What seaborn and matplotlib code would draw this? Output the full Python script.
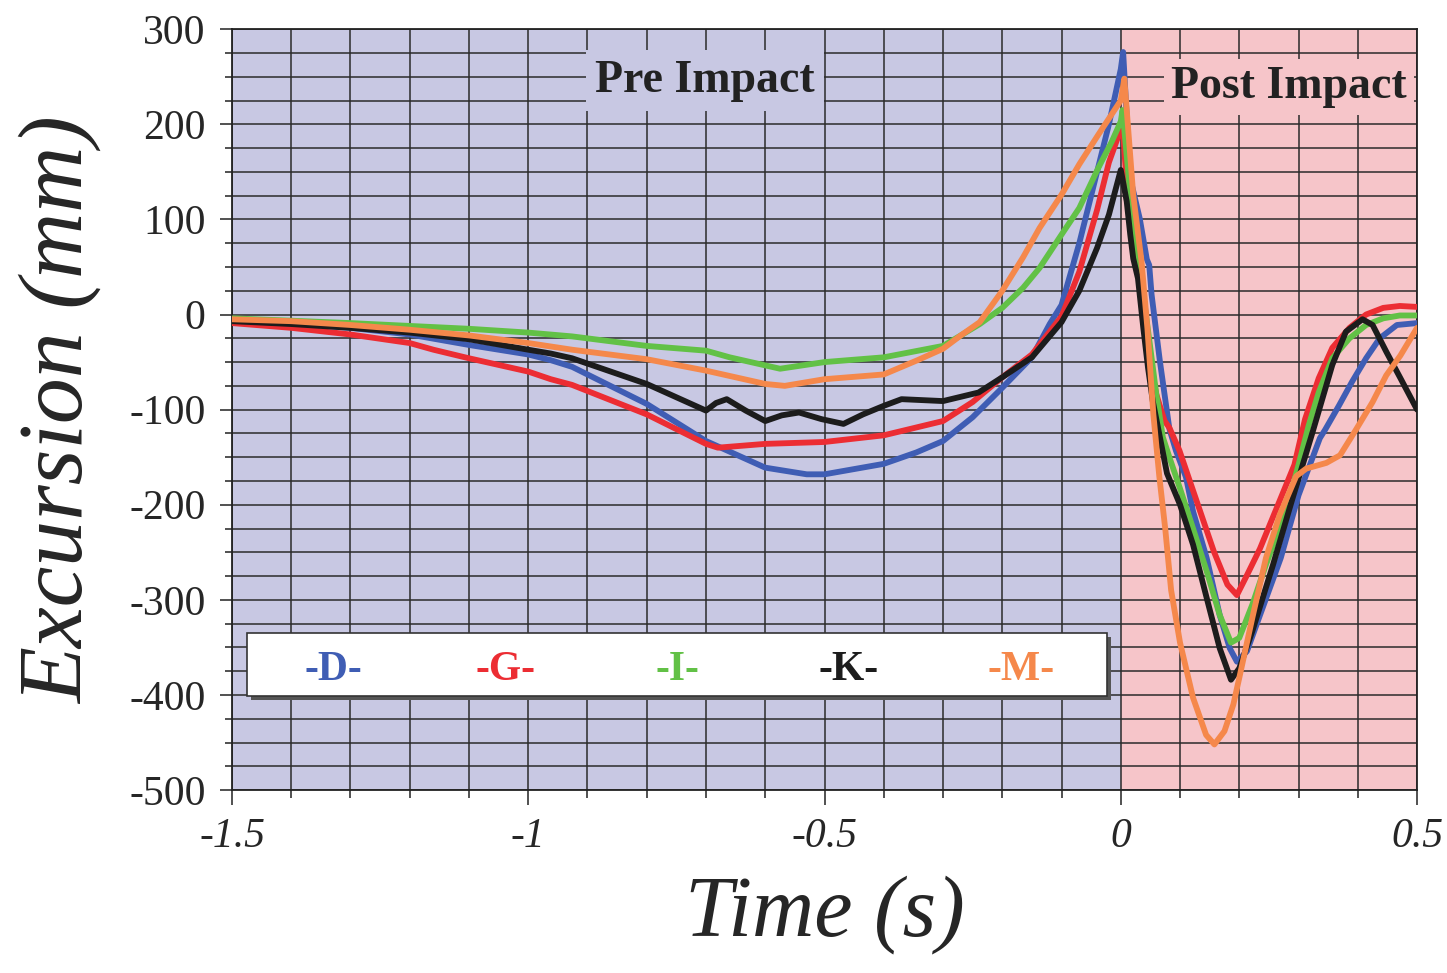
import numpy as np
import pandas as pd
import matplotlib
matplotlib.use("Agg")
import matplotlib.pyplot as plt
import seaborn as sns
from matplotlib.patches import Rectangle


# Excursion traces (time in s, excursion in mm)
t_D = [-1.5, -1.4, -1.3, -1.2, -1.1, -1.0, -0.962, -0.926, -0.8, -0.7, -0.6, -0.53, -0.5, -0.4, -0.345,
       -0.3, -0.25, -0.2, -0.15, -0.12, -0.1, -0.07, -0.04, -0.02, 0.0, 0.004, 0.016, 0.032, 0.044, 0.048,
       0.052, 0.066, 0.082, 0.093, 0.11, 0.122, 0.145, 0.167, 0.184, 0.196, 0.213, 0.235, 0.27, 0.3,
       0.336, 0.345, 0.368, 0.39, 0.414, 0.437, 0.466, 0.5]
v_D = [-7, -9, -14, -21, -32, -42, -48, -55, -94, -133, -161, -168, -168, -157, -145,
       -133, -108, -77, -45, -10, 10, 75, 150, 200, 258, 276, 143, 101, 58, 52,
       21, -49, -120, -143, -171, -207, -256, -316, -351, -365, -354, -316, -256, -190,
       -130, -121, -96, -71, -46, -25, -11, -9]

t_G = [-1.5, -1.4, -1.3, -1.2, -1.16, -1.1, -1.0, -0.962, -0.926, -0.8, -0.7, -0.68, -0.6, -0.5, -0.4,
       -0.3, -0.25, -0.2, -0.15, -0.1, -0.07, -0.04, -0.02, 0.003, 0.012, 0.027, 0.038, 0.049, 0.06,
       0.074, 0.082, 0.099, 0.117, 0.134, 0.157, 0.18, 0.196, 0.213, 0.235, 0.27, 0.293, 0.311, 0.334,
       0.357, 0.386, 0.414, 0.443, 0.471, 0.5]
v_G = [-9, -14, -21, -30, -37, -46, -60, -68, -74, -105, -136, -140, -136, -134, -127,
       -112, -92, -66, -42, -2, 45, 110, 160, 200, 119, 59, 0, -49, -84,
       -112, -119, -143, -176, -207, -249, -284, -295, -274, -246, -193, -158, -110, -67,
       -35, -14, 0, 7, 9, 8]

t_I = [-1.5, -1.3, -1.1, -1.0, -0.926, -0.8, -0.7, -0.66, -0.575, -0.5, -0.4, -0.3, -0.27, -0.238,
       -0.2, -0.165, -0.137, -0.1, -0.07, -0.038, -0.015, 0.0, 0.003, 0.016, 0.027, 0.038, 0.049, 0.06,
       0.071, 0.082, 0.1, 0.122, 0.145, 0.167, 0.186, 0.2, 0.222, 0.245, 0.28, 0.3, 0.317, 0.334,
       0.357, 0.386, 0.414, 0.443, 0.471, 0.5]
v_I = [-4, -9, -15, -19, -23, -33, -38, -45, -57, -50, -45, -33, -22, -10,
       7, 28, 49, 84, 112, 154, 182, 203, 215, 126, 70, 21, -31, -84,
       -129, -150, -183, -225, -270, -316, -345, -340, -305, -263, -204, -158, -117, -82,
       -46, -25, -11, -4, -1, -1]

t_K = [-1.5, -1.4, -1.3, -1.2, -1.1, -1.0, -0.962, -0.926, -0.8, -0.7, -0.683, -0.665, -0.633, -0.6,
       -0.572, -0.543, -0.505, -0.468, -0.435, -0.4, -0.37, -0.3, -0.24, -0.2, -0.15, -0.1, -0.07, -0.04,
       -0.02, 0.0, 0.01, 0.016, 0.021, 0.029, 0.038, 0.046, 0.054, 0.066, 0.078, 0.09, 0.1, 0.122,
       0.145, 0.167, 0.186, 0.2, 0.222, 0.257, 0.29, 0.324, 0.357, 0.38, 0.408, 0.425, 0.448, 0.472, 0.5]
v_K = [-7, -10, -14, -19, -26, -37, -41, -46, -73, -101, -93, -89, -101, -112,
       -106, -103, -110, -115, -105, -96, -89, -91, -82, -66, -45, -8, 25, 70,
       105, 152, 119, 84, 59, 38, -14, -56, -91, -129, -167, -185, -200, -242,
       -298, -351, -384, -372, -333, -263, -193, -123, -53, -18, -5, -11, -39, -67, -100]

t_M = [-1.5, -1.4, -1.3, -1.2, -1.1, -1.0, -0.926, -0.8, -0.7, -0.6, -0.567, -0.5, -0.4, -0.343,
       -0.3, -0.27, -0.238, -0.2, -0.165, -0.137, -0.1, -0.07, -0.038, 0.0, 0.006, 0.021, 0.035,
       0.045, 0.055, 0.065, 0.075, 0.085, 0.1, 0.122, 0.144, 0.158, 0.175, 0.19, 0.2, 0.222, 0.245,
       0.268, 0.296, 0.313, 0.347, 0.37, 0.397, 0.425, 0.448, 0.472, 0.5]
v_M = [-5, -7, -11, -16, -22, -30, -37, -47, -59, -73, -75, -68, -63, -48,
       -36, -22, -8, 25, 60, 91, 126, 158, 189, 225, 248, 126, 56,
       -15, -105, -170, -225, -290, -345, -403, -442, -452, -438, -410, -382, -319, -256,
       -211, -170, -162, -156, -148, -121, -92, -64, -43, -14]

runs = ["-D-", "-G-", "-I-", "-K-", "-M-"]
colors = ["#3f5db4", "#ec2d33", "#62c146", "#1c1c1c", "#f5884b"]

x_major = [-1.5, -1.0, -0.5, 0.0, 0.5]
x_labels = ["-1.5", "-1", "-0.5", "0", "0.5"]
y_major = [300, 200, 100, 0, -100, -200, -300, -400, -500]
y_labels = ["300", "200", "100", "0", "-100", "-200", "-300", "-400", "-500"]

frames = []
for name, t, v in zip(runs, [t_D, t_G, t_I, t_K, t_M], [v_D, v_G, v_I, v_K, v_M]):
    frames.append(pd.DataFrame({"Time": t, "Excursion": v, "Run": name}))
df = pd.concat(frames, ignore_index=True)

sns.set_style("ticks")
plt.rcParams["font.family"] = ["Liberation Serif", "DejaVu Serif"]
plt.rcParams["axes.unicode_minus"] = False

fig = plt.figure(figsize=(14.47, 9.73), dpi=100)
ax = fig.add_axes([0.1603, 0.188, 0.819, 0.782])

# shaded phases
ax.axvspan(-1.5, 0, color="#c8c8e3", zorder=0, lw=0)
ax.axvspan(0, 0.5, color="#f6c5c9", zorder=0, lw=0)

sns.lineplot(data=df, x="Time", y="Excursion", hue="Run", palette=colors, sort=False,
             estimator=None, linewidth=4.2, legend=False, ax=ax, zorder=3)
for line in ax.get_lines():
    line.set_linewidth(4.2)
    line.set_solid_joinstyle("round")

ax.set_xlim(-1.5, 0.5)
ax.set_ylim(-500, 300)
ax.set_xticks(x_major)
ax.set_xticklabels(x_labels, fontsize=30, fontstyle="italic")
ax.set_xticks(np.arange(-1.5, 0.51, 0.1), minor=True)
ax.set_yticks(y_major)
ax.set_yticklabels(y_labels, fontsize=30)
ax.set_yticks(np.arange(-500, 301, 25), minor=True)

ax.set_axisbelow(True)
ax.grid(which="both", color="#2b2b2b", lw=1.1)
ax.tick_params(axis="x", which="major", length=11, width=1.1, pad=9, color="#222222")
ax.tick_params(axis="x", which="minor", length=6, width=1.1, color="#222222")
ax.tick_params(axis="y", which="major", length=9, width=1.1, pad=10, color="#222222")
ax.tick_params(axis="y", which="minor", length=5, width=1.1, color="#222222")
for s in ax.spines.values():
    s.set_color("#222222")
    s.set_linewidth(1.3)

ax.set_xlabel("Time (s)", fontsize=62, fontstyle="italic")
ax.xaxis.set_label_coords(0.5, -0.112)
ax.set_ylabel("Excursion (mm)", fontsize=66, fontstyle="italic")
ax.yaxis.set_label_coords(-0.11, 0.5)

ax.text(-0.702, 246, "Pre Impact", fontsize=33, fontweight="bold", color="#222222",
        ha="center", va="center", zorder=4,
        bbox=dict(facecolor="#c8c8e3", edgecolor="none", boxstyle="square,pad=0.2"))
ax.text(0.284, 239, "Post Impact", fontsize=33, fontweight="bold", color="#222222",
        ha="center", va="center", zorder=4,
        bbox=dict(facecolor="#f6c5c9", edgecolor="none", boxstyle="square,pad=0.15"))

# legend box: text-only entries in a white frame
box_x0, box_y0, box_w, box_h = 0.0127, 0.1235, 0.7257, 0.083
ax.add_patch(Rectangle((box_x0 + 0.003, box_y0 - 0.005), box_w, box_h, transform=ax.transAxes,
                       facecolor="#555555", edgecolor="none", zorder=4))
ax.add_patch(Rectangle((box_x0, box_y0), box_w, box_h, transform=ax.transAxes,
                       facecolor="white", edgecolor="#333333", lw=1.2, zorder=5))
for i, (name, c) in enumerate(zip(runs, colors)):
    ax.text(box_x0 + box_w * (i + 0.5) / len(runs), box_y0 + box_h * 0.42, name,
            transform=ax.transAxes, fontsize=30, fontweight="bold", color=c,
            ha="center", va="center", zorder=6)

plt.savefig("out.png", dpi=100)
